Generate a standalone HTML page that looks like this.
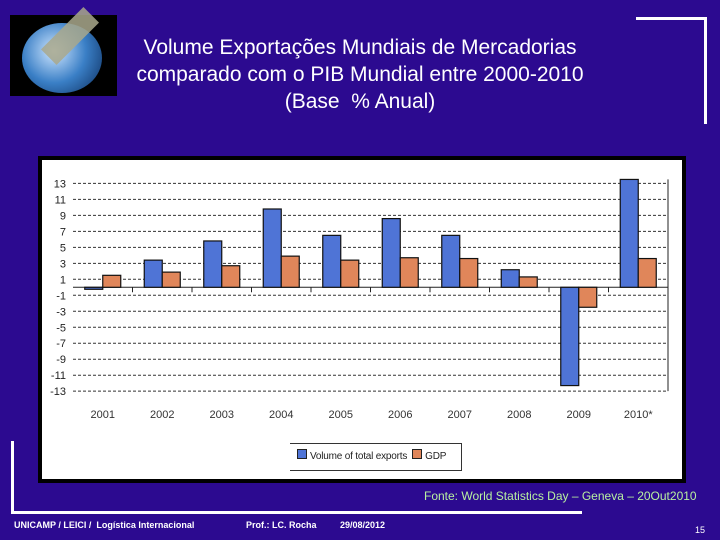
<!DOCTYPE html>
<html><head><meta charset="utf-8">
<style>
body{margin:0;width:720px;height:540px;background:#2c0a90;position:relative;overflow:hidden;font-family:"Liberation Sans",sans-serif}
.abs{position:absolute}
#title{left:100px;top:34px;width:520px;text-align:center;color:#fff;font-size:21px;line-height:27px}
</style></head><body>
<div class="abs" style="left:10px;top:15px;width:107px;height:81px;background:#000">
<div style="position:absolute;left:12px;top:8px;width:80px;height:70px;border-radius:50%;background:radial-gradient(circle at 40% 40%,#cfe6ff,#3a7fc6 50%,#0a2a5a)"></div>
<div style="position:absolute;left:30px;top:10px;width:60px;height:22px;background:#a9a88c;transform:rotate(-45deg);opacity:.85"></div>
</div>
<div id="title" class="abs">Volume Exportações Mundiais de Mercadorias<br>comparado com o PIB Mundial entre 2000-2010<br>(Base &nbsp;% Anual)</div>
<div class="abs" style="left:636px;top:17px;width:68px;height:104px;border-top:3px solid #fff;border-right:3px solid #fff"></div>
<div class="abs" style="left:38px;top:156px;width:640px;height:319px;background:#fff;border:4px solid #000"></div>
<svg class="abs" style="left:0;top:0" width="720" height="540" id="chart"></svg>
<div class="abs" style="left:290px;top:443px;width:171px;height:26px;border:1px solid #333;border-left:none;background:#fff;font-size:10px;letter-spacing:-0.2px;color:#222;line-height:26px;white-space:nowrap">
<span style="display:inline-block;width:8px;height:8px;background:#4f74d6;border:1px solid #222;margin:0 3px 0 7px"></span>Volume of total exports<span style="display:inline-block;width:8px;height:8px;background:#e0865a;border:1px solid #222;margin:0 3px 0 5px"></span>GDP</div>
<div class="abs" style="left:424px;top:489px;font-size:12px;color:#b8f0a0;white-space:nowrap">Fonte: World Statistics Day – Geneva – 20Out2010</div>
<div class="abs" style="left:11px;top:441px;width:568px;height:70px;border-left:3px solid #fff;border-bottom:3px solid #fff"></div>
<div class="abs" style="left:14px;top:520px;font-size:9px;color:#fff;font-weight:bold">UNICAMP / LEICI / &nbsp;Logística Internacional</div>
<div class="abs" style="left:246px;top:520px;font-size:9px;color:#fff;font-weight:bold">Prof.: LC. Rocha</div>
<div class="abs" style="left:340px;top:520px;font-size:9px;color:#fff;font-weight:bold">29/08/2012</div>
<div class="abs" style="left:695px;top:525px;font-size:9px;color:#fff">15</div>
<script>
const categories=["2001","2002","2003","2004","2005","2006","2007","2008","2009","2010*"];
const exportsVals=[-0.25,3.4,5.8,9.8,6.5,8.6,6.5,2.2,-12.3,13.5];
const gdpVals=[1.5,1.9,2.7,3.9,3.4,3.7,3.6,1.3,-2.5,3.6];
const yTicks=[13,11,9,7,5,3,1,-1,-3,-5,-7,-9,-11,-13];
const NS="http://www.w3.org/2000/svg";
const svg=document.getElementById('chart');
const x0=73,catW=59.5,barW=18;
const y=v=>287.3-v*7.99;
const xc=i=>x0+catW*(i+0.5);
function mk(t,a){const e=document.createElementNS(NS,t);for(const k in a)e.setAttribute(k,a[k]);svg.appendChild(e);return e;}
yTicks.forEach(v=>{
 const g=mk('line',{x1:x0,x2:668,y1:y(v),y2:y(v),stroke:'#333','stroke-width':1,'stroke-dasharray':'3,2'});
 
 
 const t=mk('text',{x:66,y:y(v)+4,'text-anchor':'end','font-size':11,fill:'#222','font-family':'Liberation Sans,sans-serif'});
 t.textContent=v;
 
 
});
const ax=mk('line',{x1:x0,x2:668,y1:y(0),y2:y(0),stroke:'#222','stroke-width':1});


const ra=mk('line',{x1:668,x2:668,y1:y(13.5),y2:y(-13),stroke:'#222','stroke-width':1});


categories.forEach((c,i)=>{
 if(i>0){const tk=mk('line',{x1:x0+catW*i,x2:x0+catW*i,y1:y(0),y2:y(0)+5,stroke:'#222'});
 
 }
 const e=exportsVals[i],g=gdpVals[i];
 const b1=mk('rect',{x:xc(i)-barW,y:Math.min(y(0),y(e)),width:barW,height:Math.abs(y(e)-y(0)),fill:'#4f74d6',stroke:'#111','stroke-width':1.2});
 
 
 const b2=mk('rect',{x:xc(i),y:Math.min(y(0),y(g)),width:barW,height:Math.abs(y(g)-y(0)),fill:'#e0865a',stroke:'#111','stroke-width':1.2});
 
 
 const t=mk('text',{x:xc(i),y:418,'text-anchor':'middle','font-size':11,fill:'#333','font-family':'Liberation Sans,sans-serif'});
 t.textContent=c;
 
 
});
</script>
</body></html>
